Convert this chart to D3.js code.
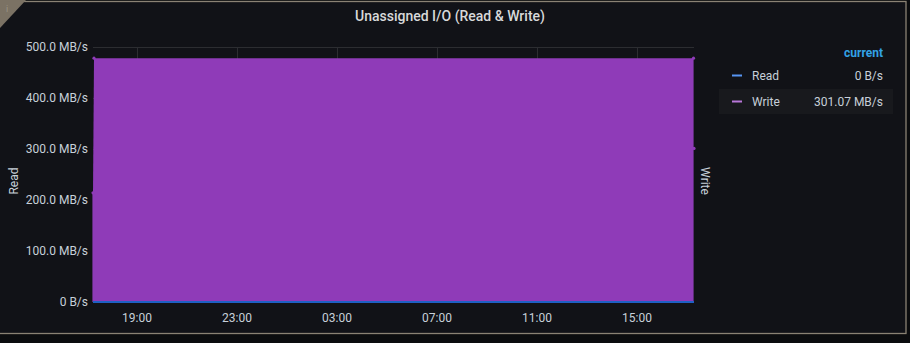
<!DOCTYPE html>
<html lang="en">
    <head>
        <meta charset="utf-8">
        <title>Unassigned I/O (Read &amp; Write)</title>
 <script type="text/javascript" src="https://cdnjs.cloudflare.com/ajax/libs/d3/7.8.5/d3.min.js"></script>
    <style>
body { margin: 0; background: #0b0c0e; }
svg { display: block; }
.axis path, .axis line { display: none; }
.axis text {
    font-family: Roboto, "Noto Sans", sans-serif;
    font-size: 12px;
    fill: #c7d0d9;
}
    </style>
    </head>
    <body>
        <script type="text/javascript">

var w = 910;
var h = 343;

// x: hours since 17:00 of first day
var writeHours = [0.26, 0.3, 1, 2, 3, 4, 5, 6, 7, 8, 9, 10, 11, 12, 13, 14, 15, 16, 17, 18, 19, 20, 21, 22, 23, 24, 24.28, 24.3];
var writeValues = [214, 478, 478, 478, 478, 478, 478, 478, 478, 478, 478, 478, 478, 478, 478, 478, 478, 478, 478, 478, 478, 478, 478, 478, 478, 478, 478, 301.07];
var readHours = [0.26, 6, 12, 18, 24.3];
var readValues = [0, 0, 0, 0, 0];
var yTicks = [0, 100, 200, 300, 400, 500];
var yTickLabels = ["0 B/s", "100.0 MB/s", "200.0 MB/s", "300.0 MB/s", "400.0 MB/s", "500.0 MB/s"];
var xTicks = [2, 6, 10, 14, 18, 22];
var xTickLabels = ["19:00", "23:00", "03:00", "07:00", "11:00", "15:00"];
var legendNames = ["Read", "Write"];
var legendColors = ["#5794f2", "#b877d9"];
var legendCurrent = ["0 B/s", "301.07 MB/s"];

var xScale = d3.scaleLinear().domain([0.26, 24.3]).range([93, 694]);
var yScale = d3.scaleLinear().domain([0, 500]).range([302, 47]);

var svg = d3.select("body").append("svg")
    .attr("width", w)
    .attr("height", h);

// panel
svg.append("rect").attr("x", 0).attr("y", 0).attr("width", w).attr("height", h).attr("fill", "#0b0c0e");
svg.append("rect")
    .attr("x", -1).attr("y", 1.5).attr("width", 907).attr("height", 332)
    .attr("fill", "#111217")
    .attr("stroke", "#8a8274").attr("stroke-width", 1.3);
svg.append("path").attr("d", "M0,0 L26,0 L0,28 Z").attr("fill", "#7b7264");
svg.append("text").attr("x", 6).attr("y", 12).text("i")
    .attr("font-family", "Roboto, sans-serif").attr("font-size", "9px").attr("fill", "#9a9284");

svg.append("text")
    .attr("x", 450).attr("y", 21)
    .attr("text-anchor", "middle")
    .attr("font-family", "Roboto, sans-serif")
    .attr("font-size", "14px")
    .attr("font-weight", 500)
    .attr("fill", "#d8d9da")
    .text("Unassigned I/O (Read & Write)");

// grid
svg.selectAll(".hgrid").data(yTicks).enter().append("line")
    .attr("x1", 93).attr("x2", 694)
    .attr("y1", function(d) { return yScale(d) + 0.5; })
    .attr("y2", function(d) { return yScale(d) + 0.5; })
    .attr("stroke", "#2c2d31");
svg.selectAll(".vgrid").data(xTicks).enter().append("line")
    .attr("x1", function(d) { return Math.round(xScale(d)) + 0.5; })
    .attr("x2", function(d) { return Math.round(xScale(d)) + 0.5; })
    .attr("y1", 47).attr("y2", 302)
    .attr("stroke", "#2c2d31");

// write area
var area = d3.area()
    .x(function(d) { return xScale(d[0]); })
    .y0(yScale(0))
    .y1(function(d) { return yScale(d[1]); });
var writeData = writeHours.map(function(d, i) { return [d, writeValues[i]]; });
svg.append("path")
    .datum(writeData)
    .attr("d", area)
    .attr("fill", "#8f3bb8");
svg.append("line")
    .attr("x1", xScale(24.3) - 0.5).attr("x2", xScale(24.3) - 0.5)
    .attr("y1", yScale(478)).attr("y2", yScale(0))
    .attr("stroke", "#5a2b75").attr("stroke-width", 1);
svg.append("line")
    .attr("x1", xScale(0.26) - 0.5).attr("x2", xScale(0.26) - 0.5)
    .attr("y1", yScale(214)).attr("y2", yScale(0))
    .attr("stroke", "#5a2b75").attr("stroke-width", 1);
svg.selectAll(".wdot").data([writeData[0], writeData[1], writeData[writeData.length - 2], writeData[writeData.length - 1]])
    .enter().append("circle")
    .attr("cx", function(d) { return xScale(d[0]); })
    .attr("cy", function(d) { return yScale(d[1]); })
    .attr("r", 1.6)
    .attr("fill", "#8f3bb8");

// read line
var line = d3.line()
    .x(function(d) { return xScale(d[0]); })
    .y(function(d) { return yScale(d[1]); });
var readData = readHours.map(function(d, i) { return [d, readValues[i]]; });
svg.append("path")
    .datum(readData)
    .attr("d", line)
    .attr("fill", "none")
    .attr("stroke", "#1f60c4")
    .attr("stroke-width", 2);

// axes
var yAxis = d3.axisLeft(yScale).tickValues(yTicks).tickSize(0).tickPadding(5)
    .tickFormat(function(d, i) { return yTickLabels[i]; });
svg.append("g")
    .attr("class", "axis")
    .attr("transform", "translate(93,0)")
    .call(yAxis);

var xAxis = d3.axisBottom(xScale).tickValues(xTicks).tickSize(0).tickPadding(11)
    .tickFormat(function(d, i) { return xTickLabels[i]; });
svg.append("g")
    .attr("class", "axis")
    .attr("transform", "translate(0,302)")
    .call(xAxis);

svg.append("text")
    .attr("transform", "translate(18,181) rotate(-90)")
    .attr("text-anchor", "middle")
    .attr("font-family", "Roboto, sans-serif").attr("font-size", "12px")
    .attr("fill", "#c7d0d9")
    .text("Read");
svg.append("text")
    .attr("transform", "translate(701,181) rotate(90)")
    .attr("text-anchor", "middle")
    .attr("font-family", "Roboto, sans-serif").attr("font-size", "12px")
    .attr("fill", "#c7d0d9")
    .text("Write");

// legend
svg.append("text")
    .attr("x", 883).attr("y", 57)
    .attr("text-anchor", "end")
    .attr("font-family", "Roboto, sans-serif").attr("font-size", "12px").attr("font-weight", 700)
    .attr("fill", "#33a2e5")
    .text("current");
svg.append("rect").attr("x", 719).attr("y", 89).attr("width", 174).attr("height", 25).attr("fill", "#18191d");

var leg = svg.selectAll(".leg").data(legendNames).enter().append("g")
    .attr("transform", function(d, i) { return "translate(0," + (75 + i * 26) + ")"; });
leg.append("line")
    .attr("x1", 732).attr("x2", 742).attr("y1", 0.5).attr("y2", 0.5)
    .attr("stroke", function(d, i) { return legendColors[i]; })
    .attr("stroke-width", 2);
leg.append("text")
    .attr("x", 752).attr("y", 4.5)
    .attr("font-family", "Roboto, sans-serif").attr("font-size", "12px")
    .attr("fill", "#c7d0d9")
    .text(function(d) { return d; });
leg.append("text")
    .attr("x", 883).attr("y", 4.5)
    .attr("text-anchor", "end")
    .attr("font-family", "Roboto, sans-serif").attr("font-size", "12px")
    .attr("fill", "#c7d0d9")
    .text(function(d, i) { return legendCurrent[i]; });

        </script>
    </body>
</html>
